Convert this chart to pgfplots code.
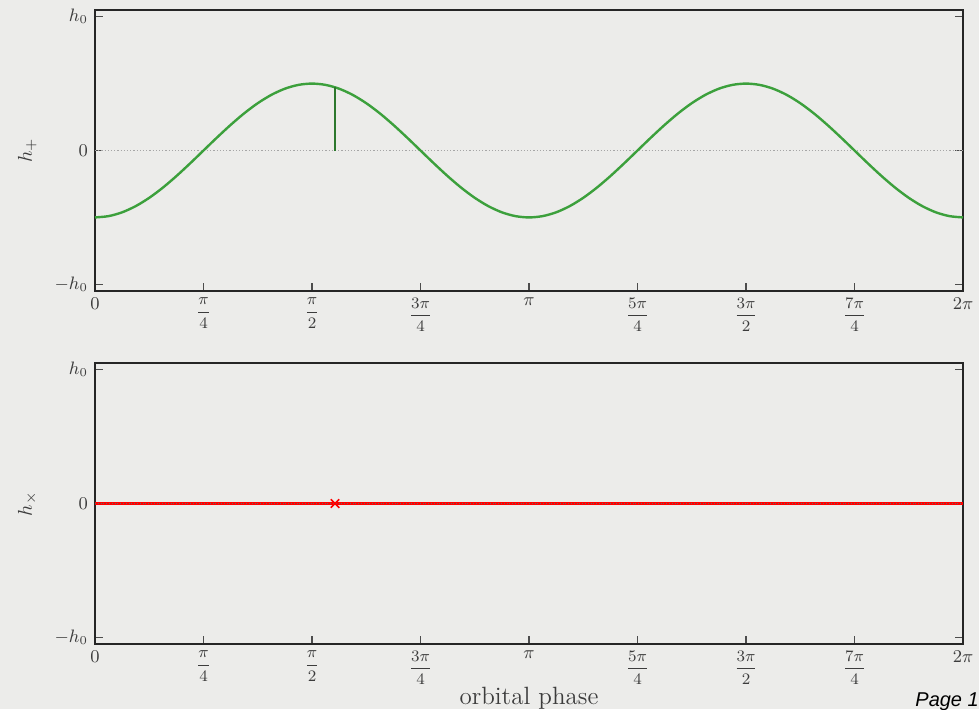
\documentclass[border=0pt]{standalone}
\usepackage{pgfplots}
\pgfplotsset{compat=1.18}
\usepackage{fontspec}
\newfontfamily\pagefont{Liberation Sans}
\definecolor{bgc}{RGB}{236,236,234}
\definecolor{wavegreen}{RGB}{60,160,60}
\definecolor{txt}{RGB}{60,60,60}
\pgfplotstableread{
x y
0 -0.5
0.125 -0.4904
0.25 -0.4619
0.375 -0.4157
0.5 -0.3536
0.625 -0.2778
0.75 -0.1913
0.875 -0.0975
1 0
1.125 0.0975
1.25 0.1913
1.375 0.2778
1.5 0.3536
1.625 0.4157
1.75 0.4619
1.875 0.4904
2 0.5
2.125 0.4904
2.25 0.4619
2.375 0.4157
2.5 0.3536
2.625 0.2778
2.75 0.1913
2.875 0.0975
3 0
3.125 -0.0975
3.25 -0.1913
3.375 -0.2778
3.5 -0.3536
3.625 -0.4157
3.75 -0.4619
3.875 -0.4904
4 -0.5
4.125 -0.4904
4.25 -0.4619
4.375 -0.4157
4.5 -0.3536
4.625 -0.2778
4.75 -0.1913
4.875 -0.0975
5 0
5.125 0.0975
5.25 0.1913
5.375 0.2778
5.5 0.3536
5.625 0.4157
5.75 0.4619
5.875 0.4904
6 0.5
6.125 0.4904
6.25 0.4619
6.375 0.4157
6.5 0.3536
6.625 0.2778
6.75 0.1913
6.875 0.0975
7 0
7.125 -0.0975
7.25 -0.1913
7.375 -0.2778
7.5 -0.3536
7.625 -0.4157
7.75 -0.4619
7.875 -0.4904
8 -0.5
}\hplus
\newcommand{\fr}[2]{{\footnotesize$\displaystyle\frac{#1}{#2}$}}
\pgfplotsset{
  myaxis/.style={
    width=434pt, height=140.5pt, scale only axis,
    xmin=0, xmax=8, ymin=-1.05, ymax=1.05,
    xtick={0,1,2,3,4,5,6,7,8},
    xticklabels={$0$,\fr{\pi}{4},\fr{\pi}{2},\fr{3\pi}{4},$\pi$,\fr{5\pi}{4},\fr{3\pi}{2},\fr{7\pi}{4},$2\pi$},
    ytick={-1,0,1},
    yticklabels={$-h_0$,$0$,$h_0$},
    xtick pos=bottom, ytick pos=both,
    tick align=inside,
    major tick length=4pt,
    axis line style={black!85, line width=0.9pt},
    every tick/.style={black!70, line width=0.6pt},
    tick label style={text=txt, font=\small},
    ylabel style={at={(axis description cs:-0.078,0.5)}, anchor=center, text=txt},
    axis background/.style={fill=bgc},
  }
}
\begin{document}
\begin{tikzpicture}
\path[use as bounding box, fill=bgc] (-47.5pt,5pt) rectangle (442pt,-349.5pt);
\begin{axis}[myaxis, at={(0pt,0pt)}, anchor=north west, ylabel={$h_+$}]
\addplot[gray!70, densely dotted, line width=0.6pt] coordinates {(0,0) (8,0)};
\addplot[wavegreen, line width=1.2pt, smooth] table[x=x, y=y] {\hplus};
\addplot[wavegreen!75!black, line width=0.7pt] coordinates {(2.212,0) (2.212,0.473)};
\end{axis}
\begin{axis}[myaxis, at={(0pt,-176.5pt)}, anchor=north west, ylabel={$h_\times$},
  xlabel={\fontsize{12.5}{15}\selectfont orbital phase},
  xlabel style={at={(axis description cs:0.5,0)}, anchor=center, yshift=-27pt, text=txt}]
\addplot[red, line width=1.3pt] coordinates {(0,0) (8,0)};
\addplot[black!60, densely dotted, line width=0.4pt] coordinates {(0,0) (8,0)};
\addplot[red, only marks, mark=x, mark size=3pt, mark options={line width=0.8pt}] coordinates {(2.212,0)};
\end{axis}
\node[anchor=base west, inner sep=0pt, font=\pagefont\itshape\fontsize{10}{12}\selectfont] at (410pt,-348pt) {Page 1};
\end{tikzpicture}
\end{document}
